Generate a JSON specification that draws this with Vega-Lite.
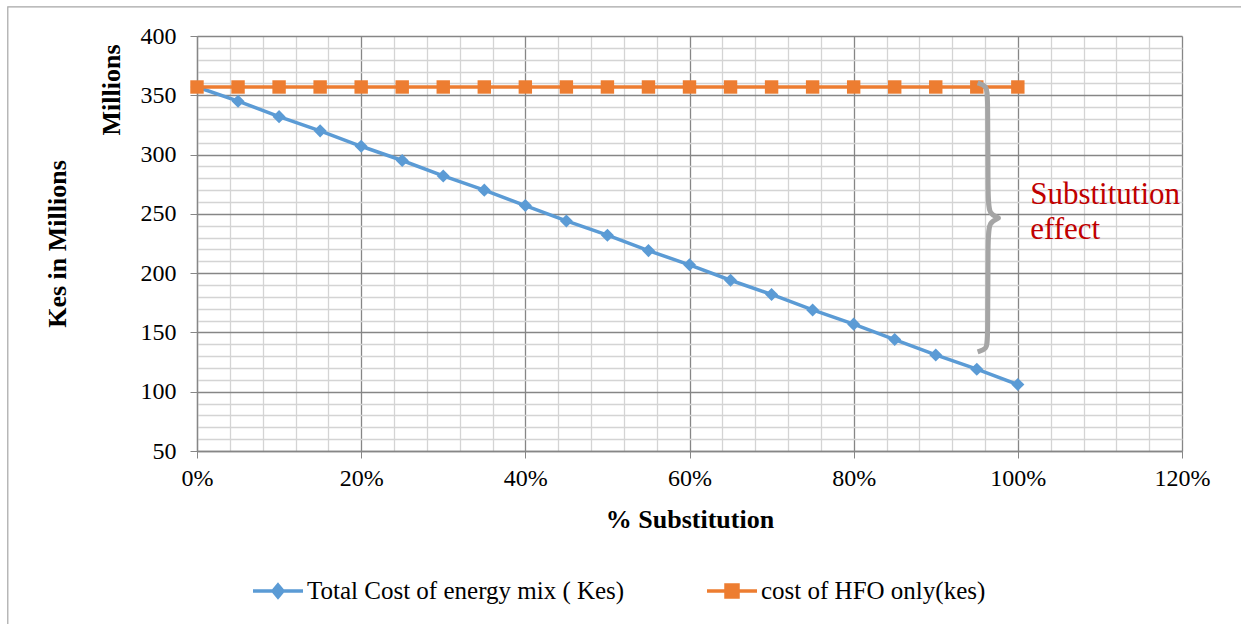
{
  "$schema": "https://vega.github.io/schema/vega-lite/v6.json",
  "autosize": "none",
  "width": 985,
  "height": 415,
  "padding": {"left": 197, "top": 36, "right": 59, "bottom": 173},
  "background": "white",
  "config": {
    "font": "Liberation Serif",
    "view": {"stroke": null},
    "axis": {"labelFont": "Liberation Serif", "titleFont": "Liberation Serif", "labelColor": "black", "titleColor": "black"}
  },
  "datasets": {
    "series": [
      {"pct": 0.00, "series": "Total Cost of energy mix ( Kes)", "cost": 357},
      {"pct": 0.05, "series": "Total Cost of energy mix ( Kes)", "cost": 345},
      {"pct": 0.10, "series": "Total Cost of energy mix ( Kes)", "cost": 332},
      {"pct": 0.15, "series": "Total Cost of energy mix ( Kes)", "cost": 320},
      {"pct": 0.20, "series": "Total Cost of energy mix ( Kes)", "cost": 307},
      {"pct": 0.25, "series": "Total Cost of energy mix ( Kes)", "cost": 295},
      {"pct": 0.30, "series": "Total Cost of energy mix ( Kes)", "cost": 282},
      {"pct": 0.35, "series": "Total Cost of energy mix ( Kes)", "cost": 270},
      {"pct": 0.40, "series": "Total Cost of energy mix ( Kes)", "cost": 257},
      {"pct": 0.45, "series": "Total Cost of energy mix ( Kes)", "cost": 244},
      {"pct": 0.50, "series": "Total Cost of energy mix ( Kes)", "cost": 232},
      {"pct": 0.55, "series": "Total Cost of energy mix ( Kes)", "cost": 219},
      {"pct": 0.60, "series": "Total Cost of energy mix ( Kes)", "cost": 207},
      {"pct": 0.65, "series": "Total Cost of energy mix ( Kes)", "cost": 194},
      {"pct": 0.70, "series": "Total Cost of energy mix ( Kes)", "cost": 182},
      {"pct": 0.75, "series": "Total Cost of energy mix ( Kes)", "cost": 169},
      {"pct": 0.80, "series": "Total Cost of energy mix ( Kes)", "cost": 157},
      {"pct": 0.85, "series": "Total Cost of energy mix ( Kes)", "cost": 144},
      {"pct": 0.90, "series": "Total Cost of energy mix ( Kes)", "cost": 131},
      {"pct": 0.95, "series": "Total Cost of energy mix ( Kes)", "cost": 119},
      {"pct": 1.00, "series": "Total Cost of energy mix ( Kes)", "cost": 106},
      {"pct": 0.00, "series": "cost of HFO only(kes)", "cost": 357},
      {"pct": 0.05, "series": "cost of HFO only(kes)", "cost": 357},
      {"pct": 0.10, "series": "cost of HFO only(kes)", "cost": 357},
      {"pct": 0.15, "series": "cost of HFO only(kes)", "cost": 357},
      {"pct": 0.20, "series": "cost of HFO only(kes)", "cost": 357},
      {"pct": 0.25, "series": "cost of HFO only(kes)", "cost": 357},
      {"pct": 0.30, "series": "cost of HFO only(kes)", "cost": 357},
      {"pct": 0.35, "series": "cost of HFO only(kes)", "cost": 357},
      {"pct": 0.40, "series": "cost of HFO only(kes)", "cost": 357},
      {"pct": 0.45, "series": "cost of HFO only(kes)", "cost": 357},
      {"pct": 0.50, "series": "cost of HFO only(kes)", "cost": 357},
      {"pct": 0.55, "series": "cost of HFO only(kes)", "cost": 357},
      {"pct": 0.60, "series": "cost of HFO only(kes)", "cost": 357},
      {"pct": 0.65, "series": "cost of HFO only(kes)", "cost": 357},
      {"pct": 0.70, "series": "cost of HFO only(kes)", "cost": 357},
      {"pct": 0.75, "series": "cost of HFO only(kes)", "cost": 357},
      {"pct": 0.80, "series": "cost of HFO only(kes)", "cost": 357},
      {"pct": 0.85, "series": "cost of HFO only(kes)", "cost": 357},
      {"pct": 0.90, "series": "cost of HFO only(kes)", "cost": 357},
      {"pct": 0.95, "series": "cost of HFO only(kes)", "cost": 357},
      {"pct": 1.00, "series": "cost of HFO only(kes)", "cost": 357}
    ],
    "brace": [
      {"i": 0, "pct": 0.951, "cost": 360.5},
      {"i": 1, "pct": 0.962, "cost": 358},
      {"i": 2, "pct": 0.9635, "cost": 350},
      {"i": 3, "pct": 0.9635, "cost": 262},
      {"i": 4, "pct": 0.965, "cost": 250},
      {"i": 5, "pct": 0.977, "cost": 246.5},
      {"i": 6, "pct": 0.977, "cost": 246.5},
      {"i": 7, "pct": 0.965, "cost": 243},
      {"i": 8, "pct": 0.9635, "cost": 231},
      {"i": 9, "pct": 0.9635, "cost": 143},
      {"i": 10, "pct": 0.962, "cost": 136},
      {"i": 11, "pct": 0.951, "cost": 133.5}
    ]
  },
  "layer": [
    {
      "data": {"values": [{"x": -0.2305, "x2": 1.4, "y": 424.5, "y2": -200}]},
      "mark": {"type": "rect", "fill": null, "stroke": "#a6a6a6", "strokeWidth": 1.2, "clip": false},
      "encoding": {
        "x": {"field": "x", "type": "quantitative", "scale": {"domain": [0, 1.2], "nice": false, "zero": false}},
        "x2": {"field": "x2"},
        "y": {"field": "y", "type": "quantitative", "scale": {"domain": [50, 400], "nice": false, "zero": false}},
        "y2": {"field": "y2"}
      }
    },
    {
      "data": {"name": "series"},
      "mark": {"type": "line", "strokeWidth": 3.5},
      "encoding": {
        "x": {
          "field": "pct", "type": "quantitative",
          "scale": {"domain": [0, 1.2], "nice": false, "zero": false},
          "axis": {
            "values": [0, 0.04, 0.08, 0.12, 0.16, 0.2, 0.24, 0.28, 0.32, 0.36, 0.4, 0.44, 0.48, 0.52, 0.56, 0.6, 0.64, 0.68, 0.72, 0.76, 0.8, 0.84, 0.88, 0.92, 0.96, 1.0, 1.04, 1.08, 1.12, 1.16, 1.2],
            "tickCount": 200,
            "format": ".0%",
            "labelExpr": "round(datum.value*100) % 20 === 0 ? datum.label : ''",
            "labelFontSize": 24,
            "labelPadding": 8,
            "labelFlush": false,
            "labelOverlap": false,
            "tickSize": 7,
            "tickColor": "#868686",
            "tickOpacity": {"condition": {"test": "round(datum.value*100) % 20 === 0", "value": 1}, "value": 0},
            "grid": true,
            "gridColor": {"condition": {"test": "round(datum.value*100) % 20 === 0", "value": "#868686"}, "value": "#d4d4d4"},
            "gridWidth": 1.3,
            "domainColor": "#868686",
            "domainWidth": 1.3,
            "title": "% Substitution",
            "titleFontSize": 26,
            "titleFontWeight": "bold",
            "titlePadding": 16
          }
        },
        "y": {
          "field": "cost", "type": "quantitative",
          "scale": {"domain": [50, 400], "nice": false, "zero": false},
          "axis": {
            "values": [50, 60, 70, 80, 90, 100, 110, 120, 130, 140, 150, 160, 170, 180, 190, 200, 210, 220, 230, 240, 250, 260, 270, 280, 290, 300, 310, 320, 330, 340, 350, 360, 370, 380, 390, 400],
            "tickCount": 200,
            "labelExpr": "datum.value % 50 === 0 ? datum.label : ''",
            "labelFontSize": 24,
            "labelPadding": 14,
            "labelFlush": false,
            "labelOverlap": false,
            "tickSize": 7,
            "tickColor": "#868686",
            "tickOpacity": {"condition": {"test": "datum.value % 50 === 0", "value": 1}, "value": 0},
            "grid": true,
            "gridColor": {"condition": {"test": "datum.value % 50 === 0", "value": "#868686"}, "value": "#d4d4d4"},
            "gridWidth": 1.3,
            "domainColor": "#868686",
            "domainWidth": 1.3,
            "title": "Kes in Millions",
            "titleFontSize": 26,
            "titleFontWeight": "bold",
            "titleX": -140,
            "titleY": 207.5,
            "titleAngle": 270,
            "titleBaseline": "middle",
            "titleAlign": "center"
          }
        },
        "color": {
          "field": "series", "type": "nominal",
          "scale": {"domain": ["Total Cost of energy mix ( Kes)", "cost of HFO only(kes)"], "range": ["#5b9bd5", "#ed7d31"]},
          "legend": {
            "orient": "none",
            "direction": "horizontal",
            "title": null,
            "legendX": 54,
            "legendY": 528,
            "padding": 0,
            "labelFontSize": 25,
            "labelFont": "Liberation Serif",
            "labelColor": "black",
            "labelOffset": 2,
            "columnPadding": 75,
            "symbolSize": 2500,
            "symbolStrokeWidth": 3.5,
            "labelLimit": 500,
            "encode": {
              "symbols": {
                "update": {
                  "shape": {"signal": "datum.value === 'cost of HFO only(kes)' ? 'M-1,0H1M-0.24,-0.24H0.24V0.24H-0.24Z' : 'M-1,0H1M0,-0.24L0.2,0L0,0.24L-0.2,0Z'"},
                  "fill": {"scale": "color", "field": "value"},
                  "stroke": {"scale": "color", "field": "value"},
                  "strokeWidth": {"value": 3.5},
                  "fillOpacity": {"value": 1},
                  "opacity": {"value": 1}
                }
              }
            }
          }
        }
      }
    },
    {
      "data": {"name": "series"},
      "transform": [{"filter": "datum.series === 'Total Cost of energy mix ( Kes)'"}],
      "mark": {"type": "point", "filled": true, "opacity": 1, "shape": "diamond", "size": 170},
      "encoding": {
        "x": {"field": "pct", "type": "quantitative"},
        "y": {"field": "cost", "type": "quantitative"},
        "color": {"field": "series", "type": "nominal"}
      }
    },
    {
      "data": {"name": "series"},
      "transform": [{"filter": "datum.series === 'cost of HFO only(kes)'"}],
      "mark": {"type": "point", "filled": true, "opacity": 1, "shape": "square", "size": 180},
      "encoding": {
        "x": {"field": "pct", "type": "quantitative"},
        "y": {"field": "cost", "type": "quantitative"},
        "color": {"field": "series", "type": "nominal"}
      }
    },
    {
      "data": {"name": "brace"},
      "mark": {"type": "line", "stroke": "#a5a5a5", "strokeWidth": 5, "interpolate": "basis"},
      "encoding": {
        "x": {"field": "pct", "type": "quantitative"},
        "y": {"field": "cost", "type": "quantitative"},
        "order": {"field": "i", "type": "quantitative"}
      }
    },
    {
      "data": {"values": [{"pct": 1.015, "cost": 266, "label": ["Substitution", "effect"]}]},
      "mark": {"type": "text", "align": "left", "baseline": "middle", "font": "Liberation Serif", "fontSize": 31, "lineHeight": 35, "color": "#c00000", "clip": false},
      "encoding": {
        "x": {"field": "pct", "type": "quantitative"},
        "y": {"field": "cost", "type": "quantitative"},
        "text": {"field": "label"}
      }
    },
    {
      "data": {"values": [{"pct": -0.1036, "cost": 354.5, "label": "Millions"}]},
      "mark": {"type": "text", "align": "center", "baseline": "middle", "angle": 270, "font": "Liberation Serif", "fontSize": 26, "fontWeight": "bold", "color": "black", "clip": false},
      "encoding": {
        "x": {"field": "pct", "type": "quantitative"},
        "y": {"field": "cost", "type": "quantitative"},
        "text": {"field": "label"}
      }
    }
  ]
}
